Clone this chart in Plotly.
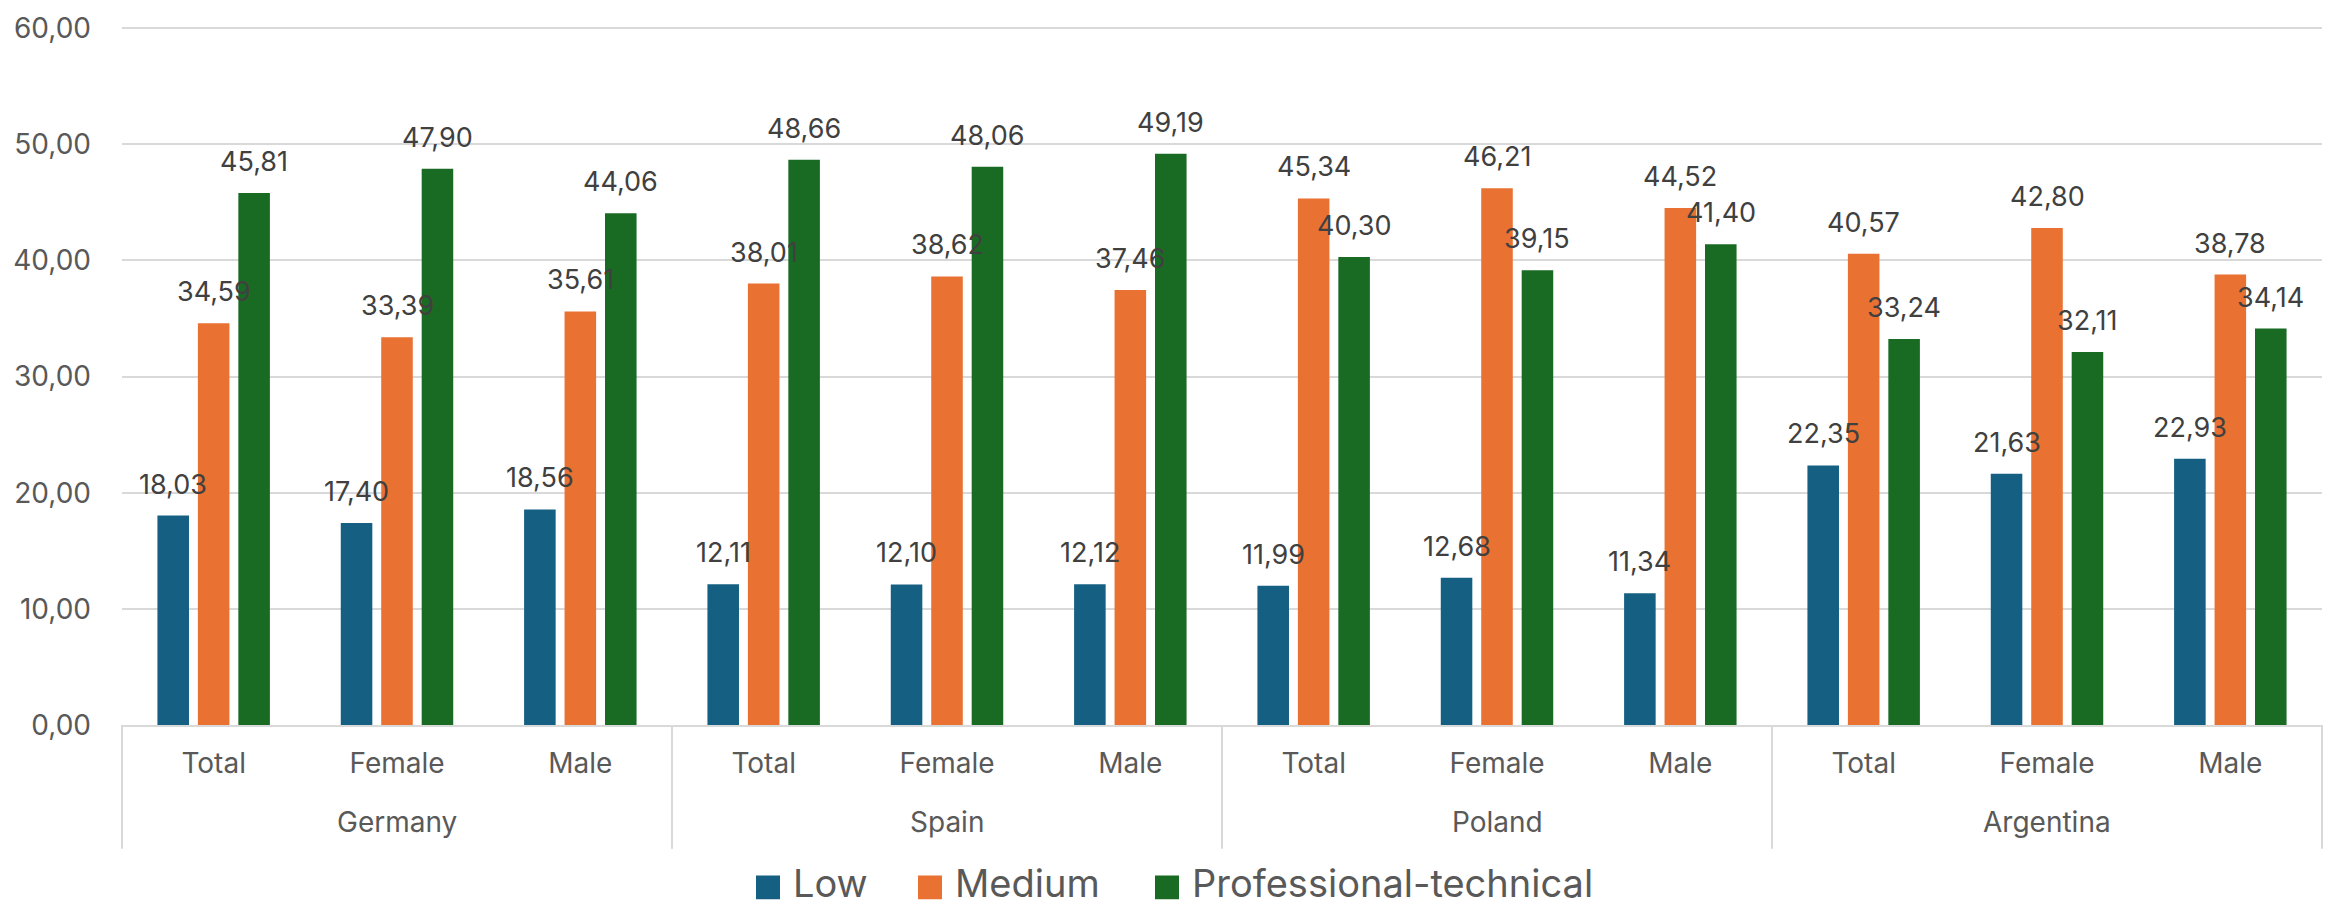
import plotly.graph_objects as go

# Categories
countries = ["Germany", "Spain", "Poland", "Argentina"]
groups = ["Total", "Female", "Male"]
series_names = ["Low", "Medium", "Professional-technical"]

# Values per (country, group), in the order above
low = [18.03, 17.40, 18.56, 12.11, 12.10, 12.12, 11.99, 12.68, 11.34, 22.35, 21.63, 22.93]
medium = [34.59, 33.39, 35.61, 38.01, 38.62, 37.46, 45.34, 46.21, 44.52, 40.57, 42.80, 38.78]
professional = [45.81, 47.90, 44.06, 48.66, 48.06, 49.19, 40.30, 39.15, 41.40, 33.24, 32.11, 34.14]

y_ticks = [0, 10, 20, 30, 40, 50, 60]

series_values = [low, medium, professional]
colors = ["#156082", "#E97132", "#196B24"]

W, H = 2333, 908
ML, MR, MT, MB = 122, 11, 20, 183
BARGAP = 0.338
BARGROUPGAP = 0.22
FONT = "Inter"
LINE = "#D9D9D9"

# Each (country, group) pair occupies one slot on the x axis
inner = [g for _ in countries for g in groups]
slots = list(range(len(inner)))
x_range = [-0.5, len(inner) - 0.5]

fig = go.Figure()
for name, vals, col in zip(series_names, series_values, colors):
    fig.add_trace(go.Bar(
        x=slots, y=vals, name=name,
        marker=dict(color=col, line=dict(width=0)),
        showlegend=False,
    ))

# Value labels above each bar
n_series = len(series_values)
sub = (1 - BARGAP) / n_series
for k, vals in enumerate(series_values):
    offset = (k - (n_series - 1) / 2) * sub
    for i, v in enumerate(vals):
        fig.add_annotation(
            x=slots[i] + offset, y=v, xref="x", yref="y",
            text=f"{v:.2f}".replace(".", ","),
            showarrow=False, yanchor="bottom", xanchor="center", yshift=13,
            font=dict(family=FONT, size=27, color="#404040"),
        )

plot_w = W - ML - MR
plot_h = H - MT - MB


def px_x(px):
    return (px - ML) / plot_w


def px_y(py):
    return (H - MB - py) / plot_h


def slot_paper(x):
    return (x - x_range[0]) / (x_range[1] - x_range[0])


# Country labels and group dividers under the group labels
n_g = len(groups)
divider_bottom = px_y(850)
for c_i, country in enumerate(countries):
    first = c_i * n_g
    centre = first + (n_g - 1) / 2
    fig.add_annotation(
        x=slot_paper(centre), y=0, xref="paper", yref="paper",
        text=country, showarrow=False, xanchor="center", yanchor="middle",
        yshift=-97, font=dict(family=FONT, size=28, color="#595959"),
    )
for b in range(len(countries) + 1):
    xb = slot_paper(b * n_g - 0.5)
    fig.add_shape(type="line", xref="paper", yref="paper",
                  x0=xb, x1=xb, y0=0, y1=divider_bottom,
                  line=dict(color=LINE, width=2))

# Legend drawn below the axis labels
legend_left = [756, 918, 1155]
sw = 24
sw_top = 877
for name, col, x0 in zip(series_names, colors, legend_left):
    fig.add_shape(type="rect", xref="paper", yref="paper",
                  x0=px_x(x0), x1=px_x(x0 + sw), y0=px_y(sw_top + sw), y1=px_y(sw_top),
                  fillcolor=col, line=dict(width=0))
    fig.add_annotation(xref="paper", yref="paper", x=px_x(x0 + sw + 11), y=px_y(885),
                       text=name, showarrow=False, xanchor="left", yanchor="middle",
                       font=dict(family=FONT, size=38, color="#595959"))

fig.update_layout(
    width=W, height=H,
    margin=dict(l=ML, r=MR, t=MT, b=MB),
    paper_bgcolor="white", plot_bgcolor="white",
    barmode="group", bargap=BARGAP, bargroupgap=BARGROUPGAP,
    separators=",.",
    font=dict(family=FONT, color="#595959"),
    showlegend=False,
)
fig.update_xaxes(
    range=x_range, tickvals=slots, ticktext=inner,
    showline=True, linecolor=LINE, linewidth=2,
    ticks="", showgrid=False, zeroline=False,
    ticklabelstandoff=12,
    tickfont=dict(family=FONT, size=28, color="#595959"),
)
fig.update_yaxes(
    range=[0, 60.1], tickvals=y_ticks, tickformat=".2f",
    showgrid=True, gridcolor=LINE, gridwidth=1.5,
    zeroline=False, showline=False, ticks="",
    ticklabelstandoff=30,
    tickfont=dict(family=FONT, size=28, color="#595959"),
)

fig.write_html("out.html")
